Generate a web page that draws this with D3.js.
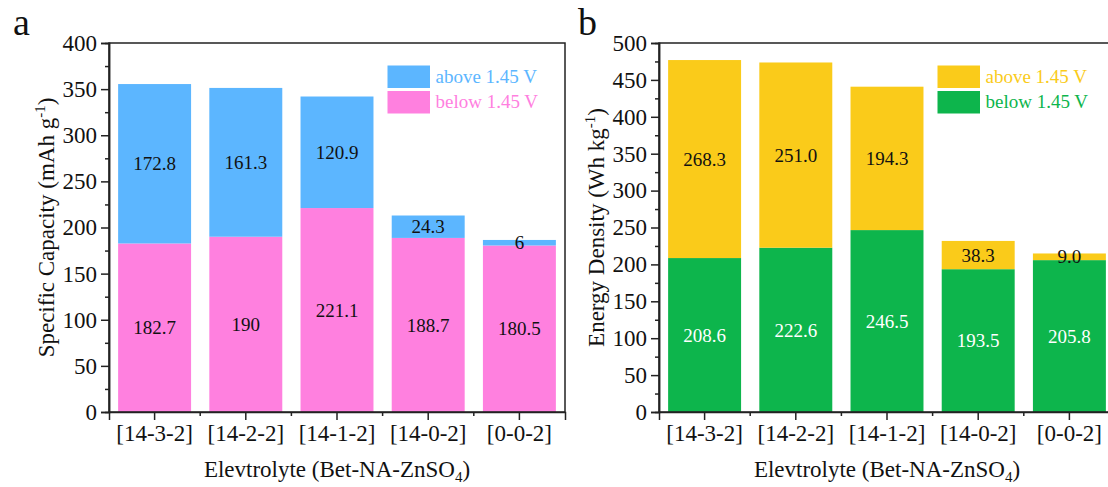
<!DOCTYPE html>
<html>
<head>
<meta charset="utf-8">
<script src="https://cdn.jsdelivr.net/npm/d3@7"></script>
<style>
  html, body { margin: 0; padding: 0; background: #fff; }
  svg { display: block; }
</style>
</head>
<body>
<svg id="chart" width="1108" height="487" font-family="Liberation Serif, Times New Roman, serif"></svg>
<script>
// ---- data ----
const categories = ["[14-3-2]", "[14-2-2]", "[14-1-2]", "[14-0-2]", "[0-0-2]"];
const capacityBelow = [182.7, 190, 221.1, 188.7, 180.5];
const capacityAbove = [172.8, 161.3, 120.9, 24.3, 6];
const capacityBelowLabels = ["182.7", "190", "221.1", "188.7", "180.5"];
const capacityAboveLabels = ["172.8", "161.3", "120.9", "24.3", "6"];
const energyBelow = [208.6, 222.6, 246.5, 193.5, 205.8];
const energyAbove = [268.3, 251.0, 194.3, 38.3, 9.0];
const energyBelowLabels = ["208.6", "222.6", "246.5", "193.5", "205.8"];
const energyAboveLabels = ["268.3", "251.0", "194.3", "38.3", "9.0"];
const capacityTicks = [0, 50, 100, 150, 200, 250, 300, 350, 400];
const energyTicks = [0, 50, 100, 150, 200, 250, 300, 350, 400, 450, 500];
const legendLabels = ["above 1.45 V", "below 1.45 V"];

const FONT = "Liberation Serif";
const svg = d3.select("#chart");

function panel(cfg) {
  const left = cfg.ox + 109, right = cfg.ox + 565, top = 43, bottom = 412;
  const g = svg.append("g").attr("font-family", FONT);
  const x = d3.scaleBand().domain(categories).range([left, right])
    .paddingInner(0.2).paddingOuter(0.1);
  const y = d3.scaleLinear().domain([0, cfg.ymax]).range([bottom, top]);

  // bars
  categories.forEach((c, i) => {
    const b = cfg.below[i], a = cfg.above[i];
    g.append("rect").attr("x", x(c)).attr("width", x.bandwidth())
      .attr("y", y(b)).attr("height", y(0) - y(b)).attr("fill", cfg.belowColor);
    g.append("rect").attr("x", x(c)).attr("width", x.bandwidth())
      .attr("y", y(b + a)).attr("height", y(b) - y(b + a)).attr("fill", cfg.aboveColor);
    g.append("text").attr("x", x(c) + x.bandwidth() / 2).attr("y", y(b / 2))
      .attr("dy", "0.35em").attr("text-anchor", "middle").attr("font-size", 19)
      .attr("font-family", FONT).attr("fill", cfg.belowText).text(cfg.belowLabels[i]);
    g.append("text").attr("x", x(c) + x.bandwidth() / 2).attr("y", y(b + a / 2))
      .attr("dy", "0.35em").attr("text-anchor", "middle").attr("font-size", 19)
      .attr("font-family", FONT).attr("fill", "#111").text(cfg.aboveLabels[i]);
  });

  // frame
  g.append("rect").attr("x", left).attr("y", top).attr("width", right - left)
    .attr("height", bottom - top).attr("fill", "none").attr("stroke", "#222").attr("stroke-width", 1.5);

  // y axis
  const yAxis = d3.axisLeft(y).tickValues(cfg.ticks).tickSize(8).tickPadding(4).tickFormat(d3.format("d"));
  const ya = g.append("g").attr("transform", `translate(${left},0)`).call(yAxis);
  const minorY = d3.range(25, cfg.ymax, 50);
  const yam = g.append("g").attr("transform", `translate(${left},0)`)
    .call(d3.axisLeft(y).tickValues(minorY).tickSize(4).tickFormat(""));
  // x axis
  const xa = g.append("g").attr("transform", `translate(0,${bottom})`)
    .call(d3.axisBottom(x).tickSize(8).tickPadding(5));
  const step = x.step();
  const bounds = categories.slice(0, -1).map(c => x(c) + x.bandwidth() + step * 0.1);
  g.selectAll(".mx").data(bounds).enter().append("line")
    .attr("x1", d => d).attr("x2", d => d).attr("y1", bottom).attr("y2", bottom + 4)
    .attr("stroke", "#222").attr("stroke-width", 1.5);

  [ya, yam, xa].forEach(s => {
    s.attr("font-family", FONT);
    s.select(".domain").attr("stroke", "#222").attr("stroke-width", 1.5);
    s.selectAll(".tick line").attr("stroke", "#222").attr("stroke-width", 1.5);
    s.selectAll(".tick text").attr("font-family", FONT).attr("font-size", 23).attr("fill", "#111");
  });

  // axis titles
  const yt = g.append("text").attr("transform", `translate(${cfg.ox + 54},${(top + bottom) / 2}) rotate(-90)`)
    .attr("text-anchor", "middle").attr("font-size", 23).attr("font-family", FONT).attr("fill", "#111");
  yt.append("tspan").text(cfg.ytitle);
  yt.append("tspan").attr("font-size", 15).attr("baseline-shift", "60%").text("-1");
  yt.append("tspan").text(")");

  const xt = g.append("text").attr("x", (left + right) / 2).attr("y", 477)
    .attr("text-anchor", "middle").attr("font-size", 23).attr("font-family", FONT).attr("fill", "#111");
  xt.append("tspan").text("Elevtrolyte (Bet-NA-ZnSO");
  xt.append("tspan").attr("font-size", 15).attr("baseline-shift", "-30%").text("4");
  xt.append("tspan").text(")");

  // panel letter
  g.append("text").attr("x", cfg.ox + cfg.letterX).attr("y", 35).attr("font-size", 38)
    .attr("font-family", FONT).attr("fill", "#111").text(cfg.letter);

  // legend
  const lx = cfg.ox + 387.5;
  [[cfg.aboveColor, 65.5], [cfg.belowColor, 91]].forEach(([col, yy], i) => {
    g.append("rect").attr("x", lx).attr("y", yy).attr("width", 42.5).attr("height", 22.5).attr("fill", col);
    g.append("text").attr("x", lx + 48).attr("y", yy + 17).attr("font-size", 19)
      .attr("font-family", FONT).attr("fill", col).text(legendLabels[i]);
  });
}

panel({
  ox: 0, ymax: 400, ticks: capacityTicks, below: capacityBelow, above: capacityAbove,
  belowLabels: capacityBelowLabels, aboveLabels: capacityAboveLabels,
  belowColor: "#FF80DF", aboveColor: "#5CB6FF", belowText: "#111",
  ytitle: "Specific Capacity (mAh g", letter: "a", letterX: 13
});
panel({
  ox: 550, ymax: 500, ticks: energyTicks, below: energyBelow, above: energyAbove,
  belowLabels: energyBelowLabels, aboveLabels: energyAboveLabels,
  belowColor: "#0DB54C", aboveColor: "#FACB1A", belowText: "#ffffff",
  ytitle: "Energy Density (Wh kg", letter: "b", letterX: 28
});
</script>
</body>
</html>
